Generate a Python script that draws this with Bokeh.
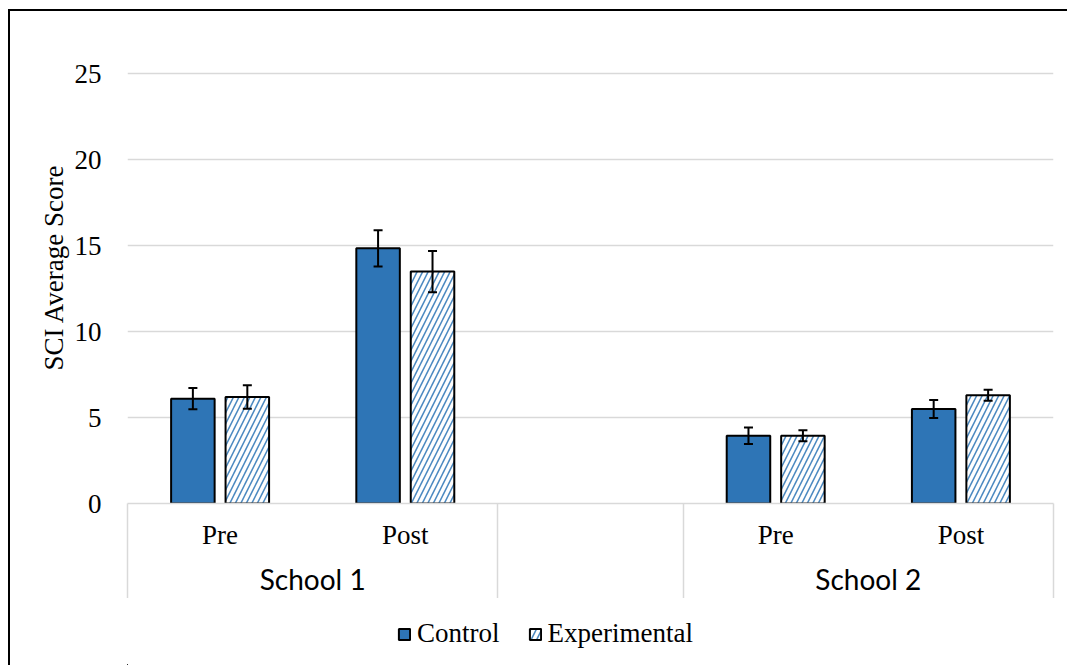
from bokeh.plotting import figure
from bokeh.layouts import column
from bokeh.models import (ColumnDataSource, Range1d, FixedTicker, LinearAxis, Whisker,
                          TeeHead, Legend, LegendItem, Title)
from bokeh.embed import file_html
from bokeh.resources import INLINE

# ---- data ----
schools = ["School 1", "School 2"]
phases = ["Pre", "Post"]
series = ["Control", "Experimental"]
control_mean = [6.1, 14.85, 3.95, 5.5]
control_err = [0.62, 1.05, 0.48, 0.53]
exper_mean = [6.2, 13.5, 3.95, 6.3]
exper_err = [0.68, 1.2, 0.32, 0.32]
y_ticks = [0, 5, 10, 15, 20, 25]

# ---- derived positions (slot per phase, one empty slot between schools) ----
n_ph = len(phases)
centers, labels = [], []
for i, s in enumerate(schools):
    for j, ph in enumerate(phases):
        centers.append(i * (n_ph + 1) + j + 0.5)
        labels.append(ph)
school_centers = [i * (n_ph + 1) + n_ph / 2 for i in range(len(schools))]
separators = [0, n_ph, n_ph + 1, 2 * n_ph + 1]
x_end = 2 * n_ph + 1

off = 0.147
bw = 0.235
BLUE = "#2E75B6"
GRID = "#D9D9D9"
SERIF = "Liberation Serif"

src = ColumnDataSource(dict(
    xc=[c - off for c in centers], xe=[c + off for c in centers],
    cm=control_mean, em=exper_mean,
    cl=[m - e for m, e in zip(control_mean, control_err)],
    cu=[m + e for m, e in zip(control_mean, control_err)],
    el=[m - e for m, e in zip(exper_mean, exper_err)],
    eu=[m + e for m, e in zip(exper_mean, exper_err)],
))

CTRL_STYLE = dict(fill_color=BLUE, line_color="black", line_width=2)
EXP_STYLE = dict(fill_color="white", line_color="black", line_width=2, hatch_pattern="/",
                 hatch_color=BLUE, hatch_scale=11, hatch_weight=1.6, hatch_alpha=0.85)

p = figure(width=1057, height=587, output_backend="svg", toolbar_location=None,
           x_range=Range1d(0, x_end), y_range=Range1d(0, 25.2),
           x_axis_location=None, y_axis_location=None,
           min_border_left=117, min_border_right=14, min_border_top=59, min_border_bottom=91)
p.outline_line_color = None
p.xgrid.visible = False
p.ygrid.ticker = FixedTicker(ticks=y_ticks)
p.ygrid.grid_line_color = GRID
p.ygrid.grid_line_width = 1.5

# y axis
ya = LinearAxis(ticker=FixedTicker(ticks=y_ticks))
ya.axis_line_color = None
ya.major_tick_line_color = None
ya.minor_tick_line_color = None
ya.major_label_standoff = 20
ya.major_label_text_font = SERIF
ya.major_label_text_font_size = "27px"
ya.major_label_text_color = "black"
p.add_layout(ya, "left")

# y axis title (left side, shifted like the reference)
p.add_layout(Title(text="SCI Average Score", align="left", offset=133, standoff=6,
                   text_font=SERIF, text_font_size="27px", text_font_style="normal",
                   text_color="black"), "left")

# x axis 1: phase labels + separators (minor ticks)
xa = LinearAxis(ticker=FixedTicker(ticks=centers, minor_ticks=separators))
xa.major_label_overrides = {c: l for c, l in zip(centers, labels)}
xa.axis_line_color = GRID
xa.axis_line_width = 1.5
xa.major_tick_line_color = None
xa.major_tick_out = 0
xa.major_tick_in = 0
xa.minor_tick_line_color = GRID
xa.minor_tick_line_width = 1.5
xa.minor_tick_out = 97
xa.minor_tick_in = 0
xa.major_label_standoff = 16 - 97
xa.major_label_text_font = SERIF
xa.major_label_text_font_size = "27px"
xa.major_label_text_color = "black"
p.add_layout(xa, "below")

# x axis 2: school labels
xb = LinearAxis(ticker=FixedTicker(ticks=school_centers))
xb.major_label_overrides = {c: s for c, s in zip(school_centers, schools)}
xb.axis_line_color = None
xb.major_tick_line_color = None
xb.minor_tick_line_color = None
xb.major_tick_out = 0
xb.major_tick_in = 0
xb.major_label_standoff = 9
xb.major_label_text_font = "Lato"
xb.major_label_text_font_size = "28px"
xb.major_label_text_color = "black"
p.add_layout(xb, "below")

p.vbar(x="xc", top="cm", width=bw, source=src, **CTRL_STYLE)
p.vbar(x="xe", top="em", width=bw, source=src, **EXP_STYLE)

for lo, up, xx in (("cl", "cu", "xc"), ("el", "eu", "xe")):
    w = Whisker(source=src, base=xx, lower=lo, upper=up, level="overlay",
                line_color="black", line_width=2,
                upper_head=TeeHead(size=9, line_width=2, line_color="black"),
                lower_head=TeeHead(size=9, line_width=2, line_color="black"))
    p.add_layout(w)

# ---- legend strip (same series, drawn outside its view; only the legend shows) ----
lf = figure(width=1057, height=67, output_backend="svg", toolbar_location=None,
            x_range=Range1d(100, 101), y_range=Range1d(100, 101),
            x_axis_location=None, y_axis_location=None, min_border=0)
lf.outline_line_color = None
lf.grid.visible = False
lc = lf.vbar(x="xc", top="cm", width=bw, source=src, **CTRL_STYLE)
le = lf.vbar(x="xe", top="em", width=bw, source=src, **EXP_STYLE)
legend = Legend(items=[LegendItem(label=series[0], renderers=[lc]),
                       LegendItem(label=series[1], renderers=[le])],
                orientation="horizontal", location=(270, 16),
                border_line_color=None, background_fill_alpha=0,
                label_text_font=SERIF, label_text_font_size="27px",
                label_text_color="black",
                glyph_width=14, glyph_height=14, label_standoff=6, spacing=28,
                padding=4, margin=0)
lf.add_layout(legend)

layout = column(p, lf, spacing=0,
                styles={"border-top": "2px solid #000", "border-left": "2px solid #000",
                        "margin-left": "8px", "margin-top": "9px"})

open("out.html", "w").write(file_html(layout, INLINE))
